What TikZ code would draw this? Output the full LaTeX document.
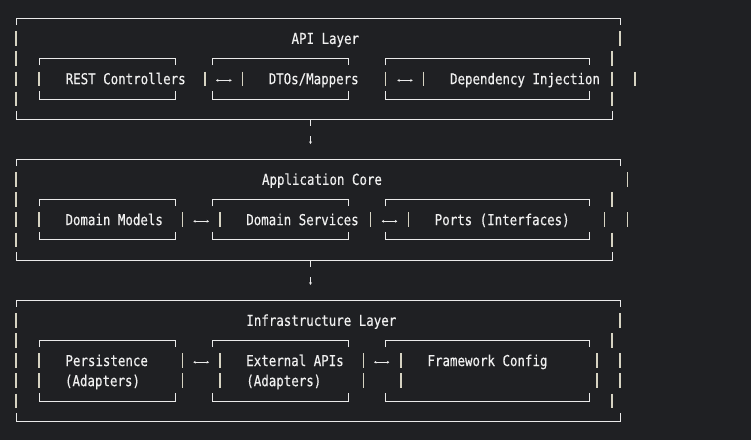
\documentclass[tikz,border=0pt]{standalone}
\usepackage{fontspec}
\newfontfamily\codefont[FakeStretch=0.83,FakeBold=0.35]{DejaVu Sans Mono}
\usetikzlibrary{arrows.meta}
\definecolor{bg}{HTML}{1F2023}
\definecolor{hl}{HTML}{EAEAEA}
\definecolor{vl}{HTML}{D6D3C2}
\definecolor{tx}{HTML}{F0F0F0}
\tikzset{
  hseg/.style={draw=hl,line width=1pt},
  vseg/.style={draw=vl,line width=1.2pt},
  lbl/.style={text=tx,font=\codefont\fontsize{15}{16}\selectfont,inner sep=0pt,anchor=base},
  biarrow/.style={draw=hl,line width=0.8pt,{Stealth[length=2.4pt,width=2.8pt]}-{Stealth[length=2.4pt,width=2.8pt]}},
  downarrow/.style={draw=hl,line width=0.8pt,-{Stealth[length=2.6pt,width=3pt]}},
}
\newcommand\myvbar[2]{\draw[vseg] (#1,#2-7.4) -- (#1,#2+7.4);}
\newcommand\mytop[3]{\draw[hseg] (#1,#3+6.6) -- (#1,#3) -- (#2,#3) -- (#2,#3+6.6);}
\newcommand\mybot[3]{\draw[hseg] (#1,#3-8) -- (#1,#3) -- (#2,#3) -- (#2,#3-8);}
\begin{document}
\begin{tikzpicture}[x=1pt,y=-1pt]
\fill[bg] (0,0) rectangle (751,440);
\useasboundingbox (0,0) rectangle (751,440);

% ---------------- Layer 1 : API Layer ----------------
\mytop{16}{620}{18.5}
\myvbar{16}{38.6}\myvbar{620}{38.6}
\myvbar{16}{58.8}
\mytop{39}{175}{58.8}\mytop{212.3}{348.3}{58.8}\mytop{385.7}{589.3}{58.8}
\myvbar{612}{58.8}
\myvbar{16}{78.9}\myvbar{39}{78.9}\myvbar{205}{78.9}\myvbar{242.3}{78.9}
\myvbar{385.7}{78.9}\myvbar{423.3}{78.9}\myvbar{612}{78.9}\myvbar{635}{78.9}
\myvbar{16}{99}
\mybot{39}{175}{99}\mybot{212.3}{348.3}{99}\mybot{385.7}{589.3}{99}
\myvbar{612}{99}
\mybot{16}{612}{119.2}
\draw[hseg] (310.5,119.2) -- (310.5,125.8);

\node[lbl] (api) at (325.3,43.9) {API Layer};
\node[lbl] (rest) at (125.7,84.2) {REST Controllers};
\node[lbl] (dto) at (313.7,84.2) {DTOs/Mappers};
\node[lbl] (di) at (525,84.2) {Dependency Injection};

\coordinate (a1s) at (216,80.4);\coordinate (a1e) at (231.7,80.4);
\coordinate (a2s) at (397.3,80.4);\coordinate (a2e) at (412.7,80.4);
\draw[biarrow] (a1s) -- (a1e);
\draw[biarrow] (a2s) -- (a2e);

\coordinate (d1s) at (310.5,136.3);\coordinate (d1e) at (310.5,144);
\draw[downarrow] (d1s) -- (d1e);

% ---------------- Layer 2 : Application Core ----------------
\mytop{16}{620}{159.4}
\myvbar{16}{179.5}\myvbar{627.3}{179.5}
\myvbar{16}{199.7}
\mytop{39}{175}{199.7}\mytop{212.3}{348.3}{199.7}\mytop{385.7}{589.3}{199.7}
\myvbar{612}{199.7}
\myvbar{16}{219.8}\myvbar{39}{219.8}\myvbar{182.3}{219.8}\myvbar{220}{219.8}
\myvbar{370.7}{219.8}\myvbar{408.3}{219.8}\myvbar{604.3}{219.8}\myvbar{627.3}{219.8}
\myvbar{16}{239.9}
\mybot{39}{175}{239.9}\mybot{212.3}{348.3}{239.9}\mybot{385.7}{589.3}{239.9}
\myvbar{612}{239.9}
\mybot{16}{612}{260.1}
\draw[hseg] (310.5,260.1) -- (310.5,266.7);

\node[lbl] (core) at (322,184.8) {Application Core};
\node[lbl] (dm) at (114.2,225.1) {Domain Models};
\node[lbl] (ds) at (302.5,225.1) {Domain Services};
\node[lbl] (ports) at (502.2,225.1) {Ports (Interfaces)};

\coordinate (b1s) at (193.3,221.3);\coordinate (b1e) at (209,221.3);
\coordinate (b2s) at (381.7,221.3);\coordinate (b2e) at (397.3,221.3);
\draw[biarrow] (b1s) -- (b1e);
\draw[biarrow] (b2s) -- (b2e);

\coordinate (d2s) at (310.5,277.2);\coordinate (d2e) at (310.5,284.9);
\draw[downarrow] (d2s) -- (d2e);

% ---------------- Layer 3 : Infrastructure Layer ----------------
\mytop{16}{620}{300.3}
\myvbar{16}{320.5}\myvbar{620}{320.5}
\myvbar{16}{340.6}
\mytop{39}{175}{340.6}\mytop{212.3}{348.3}{340.6}\mytop{385.7}{589.3}{340.6}
\myvbar{612}{340.6}
\myvbar{16}{360.7}\myvbar{39}{360.7}\myvbar{182.3}{360.7}\myvbar{220}{360.7}
\myvbar{363.3}{360.7}\myvbar{401}{360.7}\myvbar{597}{360.7}\myvbar{620}{360.7}
\myvbar{16}{380.8}\myvbar{39}{380.8}\myvbar{182.3}{380.8}\myvbar{220}{380.8}
\myvbar{363.3}{380.8}\myvbar{401}{380.8}\myvbar{597}{380.8}\myvbar{620}{380.8}
\myvbar{16}{401}
\mybot{39}{175}{401}\mybot{212.3}{348.3}{401}\mybot{385.7}{589.3}{401}
\myvbar{612}{401}
\mybot{16}{620}{421.1}

\node[lbl] (infra) at (321.3,325.8) {Infrastructure Layer};
\node[lbl] (pers) at (106.7,366) {Persistence};
\node[lbl] (pad) at (102.5,386.1) {(Adapters)};
\node[lbl] (ext) at (295,366) {External APIs};
\node[lbl] (ead) at (283.8,386.1) {(Adapters)};
\node[lbl] (fw) at (487.5,366) {Framework Config};

\coordinate (c1s) at (193.3,362.2);\coordinate (c1e) at (209,362.2);
\coordinate (c2s) at (374,362.2);\coordinate (c2e) at (389.3,362.2);
\draw[biarrow] (c1s) -- (c1e);
\draw[biarrow] (c2s) -- (c2e);
\end{tikzpicture}
\end{document}
